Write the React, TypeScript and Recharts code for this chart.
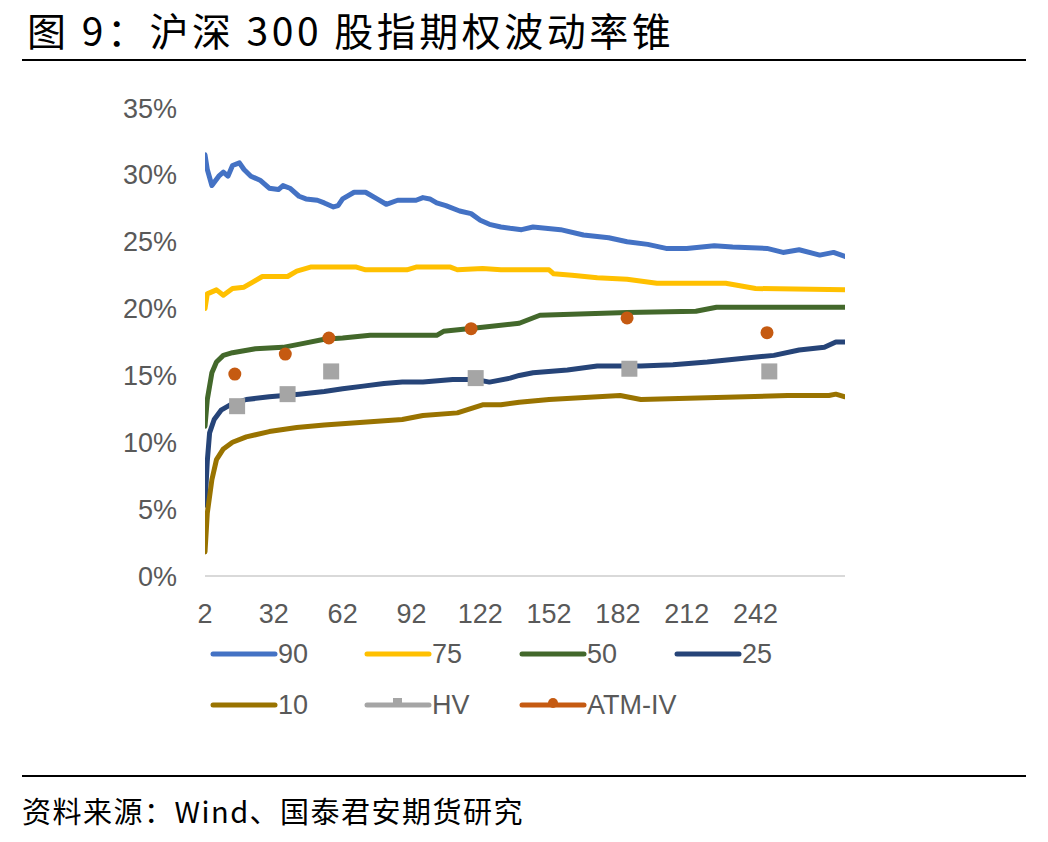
import React from 'react';
import { LineChart, Line, XAxis, YAxis } from 'recharts';

// 横轴刻度（剩余期限，天）与纵轴刻度（%）
const xTicks = [2, 32, 62, 92, 122, 152, 182, 212, 242];
const yTicks = [0, 5, 10, 15, 20, 25, 30, 35];

// 各分位数波动率曲线 [期限, 波动率%]
const p90: [number, number][] = [
  [2, 31.5], [3, 30.4], [5, 29.2], [8, 29.9], [10, 30.2], [12, 29.9], [14, 30.7], [17, 30.9],
  [19, 30.4], [22, 29.9], [26, 29.6], [30, 29.0], [34, 28.9], [36, 29.2], [39, 29.0], [43, 28.4],
  [46, 28.2], [51, 28.1], [54, 27.9], [58, 27.6], [60, 27.7], [62, 28.2], [67, 28.7], [72, 28.7],
  [77, 28.2], [81, 27.8], [86, 28.1], [94, 28.1], [97, 28.3], [100, 28.2], [103, 27.9], [107, 27.7],
  [113, 27.3], [118, 27.1], [122, 26.6], [126, 26.3], [131, 26.1], [135, 26.0], [140, 25.9],
  [145, 26.1], [157, 25.9], [167, 25.5], [178, 25.3], [186, 25.0], [195, 24.8], [203, 24.5],
  [212, 24.5], [224, 24.7], [232, 24.6], [247, 24.5], [254, 24.2], [261, 24.4], [270, 24.0],
  [276, 24.2], [281, 23.9],
];
const p75: [number, number][] = [
  [2, 20.0], [3, 21.1], [7, 21.4], [10, 21.0], [14, 21.5], [19, 21.6], [23, 22.0], [27, 22.4],
  [33, 22.4], [38, 22.4], [42, 22.8], [48, 23.1], [68, 23.1], [72, 22.9], [90, 22.9], [94, 23.1],
  [109, 23.1], [112, 22.9], [123, 23.0], [131, 22.9], [152, 22.9], [154, 22.6], [162, 22.5],
  [173, 22.3], [186, 22.2], [199, 21.9], [229, 21.9], [242, 21.5], [281, 21.4],
];
const p50: [number, number][] = [
  [2, 11.2], [3, 13.2], [5, 15.2], [7, 16.0], [10, 16.5], [14, 16.7], [24, 17.0], [36, 17.1],
  [45, 17.4], [54, 17.7], [62, 17.8], [74, 18.0], [103, 18.0], [106, 18.3], [123, 18.6],
  [139, 18.9], [148, 19.5], [186, 19.7], [216, 19.8], [225, 20.1], [281, 20.1],
];
const p25: [number, number][] = [
  [2, 5.3], [3, 8.6], [4, 10.7], [6, 11.7], [9, 12.4], [13, 12.8], [20, 13.2], [30, 13.4],
  [43, 13.6], [54, 13.8], [62, 14.0], [71, 14.2], [80, 14.4], [88, 14.5], [97, 14.5], [110, 14.7],
  [120, 14.7], [126, 14.5], [135, 14.8], [139, 15.0], [145, 15.2], [160, 15.4], [173, 15.7],
  [192, 15.7], [206, 15.8], [221, 16.0], [238, 16.3], [250, 16.5], [261, 16.9], [272, 17.1],
  [277, 17.5], [281, 17.5],
];
const p10: [number, number][] = [
  [2, 1.8], [3, 4.7], [5, 7.2], [7, 8.7], [10, 9.5], [14, 10.0], [20, 10.4], [30, 10.8],
  [42, 11.1], [54, 11.3], [71, 11.5], [88, 11.7], [97, 12.0], [112, 12.2], [123, 12.8],
  [131, 12.8], [139, 13.0], [152, 13.2], [183, 13.5], [192, 13.2], [256, 13.5], [274, 13.5],
  [277, 13.6], [281, 13.4],
];
// 历史波动率与平值隐含波动率
const hv: [number, number][] = [[16, 12.7], [38, 13.6], [57, 15.3], [120, 14.8], [187, 15.5], [248, 15.3]];
const atmIv: [number, number][] = [[15, 15.1], [37, 16.6], [56, 17.8], [118, 18.5], [186, 19.3], [247, 18.2]];

const lineSeries = [
  { key: 'p90', name: '90', color: '#4472C4', points: p90 },
  { key: 'p75', name: '75', color: '#FFC000', points: p75 },
  { key: 'p50', name: '50', color: '#43682B', points: p50 },
  { key: 'p25', name: '25', color: '#264478', points: p25 },
  { key: 'p10', name: '10', color: '#997300', points: p10 },
];
const markerSeries = [
  { key: 'hv', name: 'HV', color: '#A5A5A5', points: hv },
  { key: 'atm', name: 'ATM-IV', color: '#C55A11', points: atmIv },
];

// 合并为按期限排序的表
const rowsByDay = new Map<number, any>();
[...lineSeries, ...markerSeries].forEach((s) => {
  s.points.forEach(([d, v]) => {
    const row = rowsByDay.get(d) || { day: d };
    row[s.key] = v;
    rowsByDay.set(d, row);
  });
});
const chartData = Array.from(rowsByDay.values()).sort((a, b) => a.day - b.day);

const axisFont = "'Liberation Sans', sans-serif";
const cjkFont = "'Noto Sans CJK SC', sans-serif";

const squareDot = (props: any) => {
  const { cx, cy, value, index } = props;
  if (value == null || cx == null || cy == null) return <g key={`hv-${index}`} />;
  return <rect key={`hv-${index}`} x={cx - 8} y={cy - 8} width={16} height={16} fill="#A5A5A5" />;
};

const circleDot = (props: any) => {
  const { cx, cy, value, index } = props;
  if (value == null || cx == null || cy == null) return <g key={`atm-${index}`} />;
  return <circle key={`atm-${index}`} cx={cx} cy={cy} r={6.5} fill="#C55A11" />;
};

const legendItems = [
  { name: '90', color: '#4472C4', left: 210, top: 654, marker: '' },
  { name: '75', color: '#FFC000', left: 364, top: 654, marker: '' },
  { name: '50', color: '#43682B', left: 519, top: 654, marker: '' },
  { name: '25', color: '#264478', left: 674, top: 654, marker: '' },
  { name: '10', color: '#997300', left: 210, top: 705, marker: '' },
  { name: 'HV', color: '#A5A5A5', left: 364, top: 705, marker: 'square' },
  { name: 'ATM-IV', color: '#C55A11', left: 519, top: 705, marker: 'circle' },
];

const LegendItem = ({ item }: { item: (typeof legendItems)[number] }) => (
  <div style={{ position: 'absolute', left: item.left, top: item.top - 16, height: 32, display: 'flex', alignItems: 'center' }}>
    <svg width={68} height={32}>
      <line x1={3} y1={16} x2={65} y2={16} stroke={item.color} strokeWidth={5} strokeLinecap="round" />
      {item.marker === 'square' && <rect x={29} y={9} width={9} height={8} fill={item.color} />}
      {item.marker === 'circle' && <circle cx={34} cy={14} r={5} fill={item.color} />}
    </svg>
    <span style={{ fontFamily: axisFont, fontSize: 27, color: '#595959', marginLeft: 0 }}>{item.name}</span>
  </div>
);

export default function App() {
  return (
    <div style={{ position: 'absolute', left: 0, top: 0, width: 1048, height: 842, background: '#fff', overflow: 'hidden' }}>
      <div style={{ position: 'absolute', left: 27, top: 6, fontFamily: cjkFont, fontSize: 39, lineHeight: '46px', letterSpacing: 3.5, color: '#000', whiteSpace: 'nowrap' }}>
        图 9：沪深 300 股指期权波动率锥
      </div>
      <div style={{ position: 'absolute', left: 22, top: 59, width: 1004, height: 2, background: '#000' }} />

      <div style={{ position: 'absolute', left: 0, top: 0 }}>
        <LineChart width={1048} height={842} data={chartData} margin={{ top: 108, right: 203, bottom: 226, left: 125 }}>
          <XAxis
            dataKey="day"
            type="number"
            domain={[2, 281]}
            ticks={xTicks}
            allowDataOverflow
            tickLine={false}
            axisLine={{ stroke: '#D9D9D9', strokeWidth: 2 }}
            tickMargin={22}
            height={40}
            tick={{ fill: '#595959', fontSize: 27, fontFamily: axisFont }}
          />
          <YAxis
            type="number"
            domain={[0, 35]}
            ticks={yTicks}
            width={80}
            axisLine={false}
            tickLine={false}
            tickMargin={22}
            tickFormatter={(v) => `${v}%`}
            tick={{ fill: '#595959', fontSize: 27, fontFamily: axisFont }}
          />
          {lineSeries.map((s) => (
            <Line
              key={s.key}
              type="linear"
              dataKey={s.key}
              name={s.name}
              stroke={s.color}
              strokeWidth={5}
              strokeLinecap="round"
              strokeLinejoin="round"
              dot={false}
              activeDot={false}
              connectNulls
              isAnimationActive={false}
            />
          ))}
          <Line dataKey="hv" name="HV" stroke="none" dot={squareDot} activeDot={false} isAnimationActive={false} />
          <Line dataKey="atm" name="ATM-IV" stroke="none" dot={circleDot} activeDot={false} isAnimationActive={false} />
        </LineChart>
      </div>

      {legendItems.map((item) => (
        <LegendItem key={item.name} item={item} />
      ))}

      <div style={{ position: 'absolute', left: 22, top: 775, width: 1004, height: 2, background: '#000' }} />
      <div style={{ position: 'absolute', left: 22, top: 792, fontFamily: cjkFont, fontSize: 29, lineHeight: '36px', letterSpacing: 1.5, color: '#000', whiteSpace: 'nowrap' }}>
        资料来源：Wind、国泰君安期货研究
      </div>
    </div>
  );
}
